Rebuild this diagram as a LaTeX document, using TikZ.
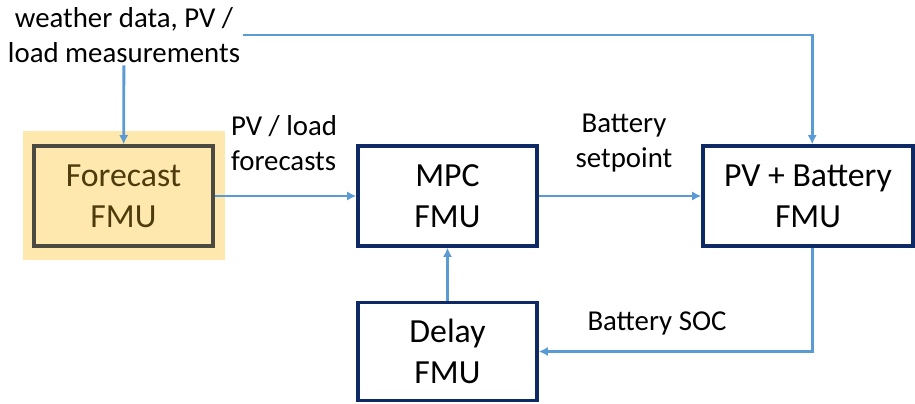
\documentclass[tikz,border=0pt]{standalone}
\usepackage{fontspec}
\setmainfont{Carlito}
\usetikzlibrary{arrows.meta,positioning}
\definecolor{FlowBlue}{HTML}{5B9BD5}
\definecolor{BoxNavy}{HTML}{0E2A66}
\definecolor{FcBack}{HTML}{FFE8AE}
\definecolor{FcBorder}{HTML}{4A4A40}
\definecolor{FcText}{HTML}{4E3B0B}

\begin{document}
\begin{tikzpicture}[x=0.025cm,y=-0.025cm,
 fmu/.style={draw=BoxNavy,line width=2.4pt,fill=white,minimum width=4.475cm,minimum height=2.5cm,align=center,inner sep=0pt,font=\fontsize{24}{29}\selectfont},
 flow/.style={draw=FlowBlue,line width=2pt,-{Latex[length=6.5pt,width=6.5pt]}},
 lbl/.style={align=center,inner sep=2pt,font=\fontsize{20.5}{24.5}\selectfont}]
 \useasboundingbox (0,0) rectangle (915,403);
 \fill[FcBack] (23,131) rectangle (225,260);
 \node[lbl] (wx) at (124,35) {weather data, PV /\\load measurements};
 \node[fmu,fill=FcBack,draw=FcBorder,text=FcText] (fc) at (123.5,196) {Forecast\\FMU};
 \node[fmu] (mpc) at (447.5,196) {MPC\\FMU};
 \node[fmu,minimum width=5.25cm] (pvb) at (808,196) {PV + Battery\\FMU};
 \node[fmu,minimum height=2.45cm] (dly) at (447.5,351.5) {Delay\\FMU};
 \node[lbl,align=left,anchor=west] (fcl) at (228,143) {PV / load\\forecasts};
 \node[lbl] (spl) at (624,143) {Battery\\setpoint};
 \node[lbl] (socl) at (657,323) {Battery SOC};
 \draw[flow] (wx) -- (fc);
 \draw[flow] (wx.east) -| ([xshift=3pt]pvb.north);
 \draw[flow] (fc) -- (mpc);
 \draw[flow] (mpc) -- (pvb);
 \draw[flow] ([xshift=3pt]pvb.south) |- (dly.east);
 \draw[flow] (dly) -- (mpc);
\end{tikzpicture}
\end{document}
